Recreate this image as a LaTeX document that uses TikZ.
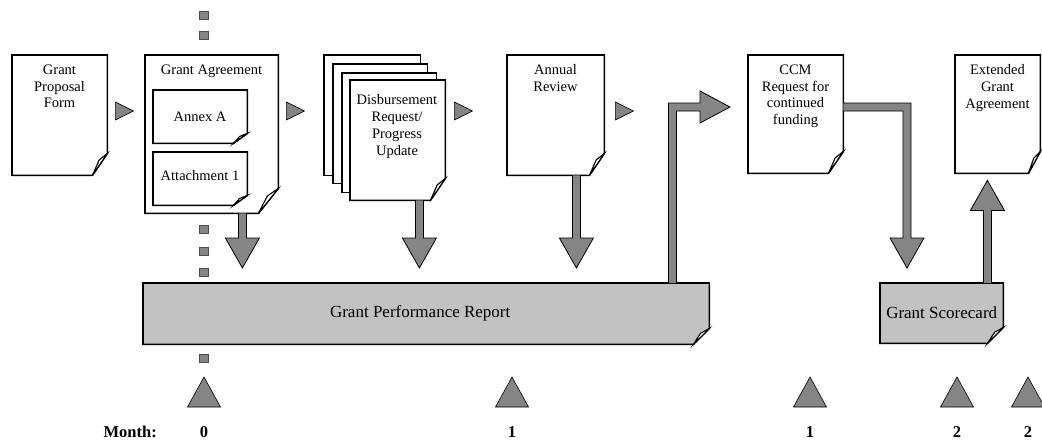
\documentclass[tikz,border=0pt]{standalone}
\usepackage{fontspec}
\setmainfont{Liberation Serif}
\usetikzlibrary{calc}
\definecolor{shade}{gray}{0.76}
\definecolor{arrowfill}{gray}{0.52}
\tikzset{
  pageline/.style={draw=black, line width=1.6pt, line join=miter},
  pagebox/.style={draw=none, inner sep=0pt, anchor=north west},
  pagetext/.style={font=\fontsize{14.5}{16.8}\selectfont, align=center, inner sep=0pt, anchor=north},
  bigtext/.style={font=\fontsize{17}{20}\selectfont, inner sep=0pt},
  monthtext/.style={font=\bfseries\fontsize{16.5}{19}\selectfont, inner sep=0pt, anchor=base},
  fatarrow/.style={fill=arrowfill, draw=black, line width=0.8pt, line join=miter},
  smalltri/.style={fill=arrowfill, draw=black, line width=0.6pt, line join=miter},
  dotmark/.style={fill=arrowfill, draw=black!70, line width=0.5pt, inner sep=0pt, minimum width=9pt, minimum height=8pt},
}
% page outline with a folded bottom-right corner: #1 fill, #2 node, #3 vertical cut, #4 horizontal cut
\newcommand\pageshape[4][white]{%
  \path[pageline, fill=#1] (#2.north west) -- (#2.north east) -- ($(#2.south east)+(0,-#3)$)
     -- ($(#2.south east)+(-#4,0)$) -- (#2.south west) -- cycle;
  \path[pageline, fill=white, line width=1.1pt] ($(#2.south east)+(0,-#3)$) -- ($(#2.south east)+(-0.55*#4,-0.7*#3)$)
     -- ($(#2.south east)+(-#4,0)$) -- cycle;
}
\newcommand\fatdown[2]{\path[fatarrow] let \p1=(#1), \p2=(#2) in
  (\x1-4pt,\y1) -- (\x1-4pt,\y2+45pt) -- (\x1-17pt,\y2+45pt) -- (\x1,\y2+15pt)
  -- (\x1+17pt,\y2+45pt) -- (\x1+4pt,\y2+45pt) -- (\x1+4pt,\y1);}
\newcommand\fatup[2]{\path[fatarrow] let \p1=(#1), \p2=(#2) in
  (\x1-4pt,\y1) -- (\x1-4pt,\y2-37pt) -- (\x1-17pt,\y2-37pt) -- (\x1,\y2-7pt)
  -- (\x1+17pt,\y2-37pt) -- (\x1+4pt,\y2-37pt) -- (\x1+4pt,\y1);}
\newcommand\fatupright[2]{\path[fatarrow] let \p1=(#1), \p2=(#2) in
  (\x1-4pt,\y1) -- (\x1-4pt,\y2+4pt) -- (\x2-30pt,\y2+4pt) -- (\x2-30pt,\y2+16pt) -- (\x2,\y2)
  -- (\x2-30pt,\y2-16pt) -- (\x2-30pt,\y2-4pt) -- (\x1+4pt,\y2-4pt) -- (\x1+4pt,\y1);}
\newcommand\fatrightdown[2]{\path[fatarrow] let \p1=(#1), \p2=(#2) in
  (\x1,\y1+4pt) -- (\x2+4pt,\y1+4pt) -- (\x2+4pt,\y2+45pt) -- (\x2+17pt,\y2+45pt) -- (\x2,\y2+15pt)
  -- (\x2-17pt,\y2+45pt) -- (\x2-4pt,\y2+45pt) -- (\x2-4pt,\y1-4pt) -- (\x1,\y1-4pt);}
\newcommand\rtri[1]{\path[smalltri] let \p1=(#1) in (\x1-9pt,\y1+9pt) -- (\x1+9pt,\y1) -- (\x1-9pt,\y1-9pt) -- cycle;}
\newcommand\utri[1]{\path[smalltri] let \p1=(#1) in (\x1-16.5pt,\y1) -- (\x1,\y1+30pt) -- (\x1+16.5pt,\y1) -- cycle;}

\begin{document}
\begin{tikzpicture}[x=1pt,y=-1pt]
\useasboundingbox[fill=white] (0,0) rectangle (1042,440);

% ---- page frames (named nodes) ----
\node[pagebox, minimum width=95pt,  minimum height=120pt] (gpf)    at (12,55)  {};
\node[pagebox, minimum width=133pt, minimum height=158pt] (ga)     at (145,55) {};
\node[pagebox, minimum width=94pt,  minimum height=53pt]  (annex)  at (153,90) {};
\node[pagebox, minimum width=94pt,  minimum height=53pt]  (attach) at (153,152) {};
\node[pagebox, minimum width=96pt,  minimum height=120pt] (s1)     at (324,55) {};
\node[pagebox, minimum width=94pt,  minimum height=119pt] (s2)     at (333,64) {};
\node[pagebox, minimum width=94pt,  minimum height=119pt] (s3)     at (342,73) {};
\node[pagebox, minimum width=95pt,  minimum height=120pt] (disb)   at (350,80) {};
\node[pagebox, minimum width=97pt,  minimum height=120pt] (ar)     at (507,55) {};
\node[pagebox, minimum width=95pt,  minimum height=118pt] (ccm)    at (748,55) {};
\node[pagebox, minimum width=85pt,  minimum height=118pt] (ext)    at (955,55) {};
\node[pagebox, minimum width=566pt, minimum height=61pt]  (gpr)    at (143,283) {};
\node[pagebox, minimum width=123pt, minimum height=60pt]  (sc)     at (880,283) {};

\pageshape{gpf}{22}{15}
\pageshape{ga}{25}{20}
\pageshape{annex}{10}{14}
\pageshape{attach}{10}{14}
\path[pageline, fill=white] (s1.north west) rectangle (s1.south east);
\path[pageline, fill=white] (s2.north west) rectangle (s2.south east);
\path[pageline, fill=white] (s3.north west) rectangle (s3.south east);
\pageshape{disb}{22}{15}
\pageshape{ar}{22}{15}
\pageshape{ccm}{22}{15}
\pageshape{ext}{22}{12}
\pageshape[shade]{gpr}{16}{16}
\pageshape[shade]{sc}{16}{16}

% ---- texts ----
\node[pagetext] (t-gpf)    at (59.5,64.5) {Grant\\Proposal\\Form};
\node[pagetext] (t-ga)     at (211.5,64.5) {Grant Agreement};
\node[pagetext, anchor=center] (t-annex)  at (200,117) {Annex A};
\node[pagetext, anchor=center] (t-attach) at (200,176) {Attachment 1};
\node[pagetext] (t-disb)   at (397,94.5) {Disbursement\\Request/\\Progress\\Update};
\node[pagetext] (t-ar)     at (555.5,64.5) {Annual\\Review};
\node[pagetext] (t-ccm)    at (795.5,64.5) {CCM\\Request for\\continued\\funding};
\node[pagetext] (t-ext)    at (997.5,64.5) {Extended\\Grant\\Agreement};
\node[bigtext] (t-gpr) at ($(gpr.center)+(-6,0)$) {Grant Performance Report};
\node[bigtext] (t-sc)  at ($(sc.center)+(0,-1)$) {Grant Scorecard};

% ---- small flow triangles ----
\rtri{$(gpf.north east)+(17,56)$}
\rtri{$(ga.north east)+(17,56)$}
\rtri{$(disb.north east)+(18,31)$}
\rtri{$(ar.north east)+(20,56)$}

% ---- fat arrows ----
\coordinate (a1s) at ($(ga.south east)+(-36,0)$);
\fatdown{a1s}{a1s |- gpr.north}
\coordinate (a2s) at ($(disb.south east)+(-26,0)$);
\fatdown{a2s}{a2s |- gpr.north}
\coordinate (a3s) at ($(ar.south east)+(-28,0)$);
\fatdown{a3s}{a3s |- gpr.north}
\coordinate (a4s) at ($(gpr.north east)+(-37,0)$);
\coordinate (a4e) at ($(ccm.north west)+(-18,52)$);
\fatupright{a4s}{a4e}
\coordinate (a5s) at ($(ccm.north east)+(0,52)$);
\coordinate (a5x) at ($(sc.north west)+(27,0)$);
\fatrightdown{a5s}{a5x}
\coordinate (a6s) at ($(sc.north east)+(-16,0)$);
\fatup{a6s}{a6s |- ext.south}

% ---- dotted month-0 line ----
\foreach \yy [count=\i] in {15,35,229,251,272,358} {
  \node[dotmark] (dot\i) at (204,\yy) {};
}

% ---- timeline ----
\node[monthtext, anchor=base east] (month) at (157,437) {Month:};
\node[monthtext] (m0)  at (204,437)  {0};
\node[monthtext] (m1)  at (512,437)  {1};
\node[monthtext] (m1b) at (810,437)  {1};
\node[monthtext] (m2)  at (957,437)  {2};
\node[monthtext] (m2b) at (1028,437) {2};
\foreach \mm in {m0,m1,m1b,m2,m2b} {
  \utri{$(\mm.base)+(0,-30)$}
}
\end{tikzpicture}
\end{document}
